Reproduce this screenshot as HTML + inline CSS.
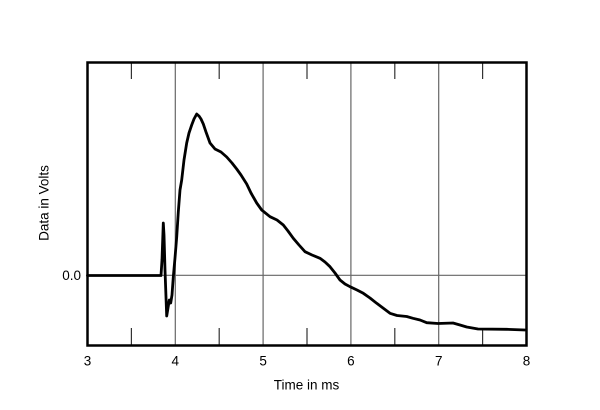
<!DOCTYPE html>
<html>
<head>
<meta charset="utf-8">
<style>
  html, body { margin: 0; padding: 0; background: #fff; }
  body { width: 600px; height: 410px; overflow: hidden; }
  svg { display: block; }
  text { font-family: "Liberation Sans", Arial, sans-serif; fill: #000; }
</style>
</head>
<body>
<svg width="600" height="410" viewBox="0 0 600 410" xmlns="http://www.w3.org/2000/svg">
  <rect x="0" y="0" width="600" height="410" fill="#fff"/>
  <g stroke="#666" stroke-width="1.2">
    <line x1="175.3" y1="62.5" x2="175.3" y2="345.5"/>
    <line x1="263.1" y1="62.5" x2="263.1" y2="345.5"/>
    <line x1="350.9" y1="62.5" x2="350.9" y2="345.5"/>
    <line x1="438.7" y1="62.5" x2="438.7" y2="345.5"/>
    <line x1="87.5" y1="275.3" x2="526.5" y2="275.3"/>
  </g>
  <g stroke="#333" stroke-width="1.2">
    <line x1="131.4" y1="62.5" x2="131.4" y2="79"/>
    <line x1="219.2" y1="62.5" x2="219.2" y2="79"/>
    <line x1="307" y1="62.5" x2="307" y2="79"/>
    <line x1="394.8" y1="62.5" x2="394.8" y2="79"/>
    <line x1="482.6" y1="62.5" x2="482.6" y2="79"/>
    <line x1="131.4" y1="345.5" x2="131.4" y2="328"/>
    <line x1="219.2" y1="345.5" x2="219.2" y2="328"/>
    <line x1="307" y1="345.5" x2="307" y2="328"/>
    <line x1="394.8" y1="345.5" x2="394.8" y2="328"/>
    <line x1="482.6" y1="345.5" x2="482.6" y2="328"/>
  </g>
  <rect x="87.5" y="62.5" width="439" height="283" fill="none" stroke="#000" stroke-width="2.5"/>
  <polyline fill="none" stroke="#000" stroke-width="2.8" stroke-linejoin="round" stroke-linecap="round"
    points="87.5,275.5 161,275.5 162,260 163.3,223 164,235 165,270 166.7,316 168,308 169.3,300 170.7,303 172,295 173.3,277 175,258 176.7,237 178.3,212 180,190 181.7,180 184,160 186.7,143 189,133 191.7,125 194,119 196.7,114 199,116 201,119 203.3,124 206,132 210,143 215,149 221,152 226.7,157 232,163 236.7,169 241,175 246.7,184 251,193 256.7,203 261.7,210 270,216.7 277,220 283.3,225 288,231 293.3,238.3 299,245 305,251.7 312,255 320,258.3 325,262 330,266.7 335,273 340,280 345,284 350,286.7 357,290 363.3,293.3 370,298 376.7,303.3 383,308 390,313.3 397,315.5 406.7,316.5 413,318.3 420,320 426.7,322.7 438,323.5 453,323 460,325 466.7,327 478,329 506.7,329.3 525,330"/>
  <g font-size="13.5" text-anchor="middle">
    <text x="87.5" y="365.5">3</text>
    <text x="175.3" y="365.5">4</text>
    <text x="263.1" y="365.5">5</text>
    <text x="350.9" y="365.5">6</text>
    <text x="438.7" y="365.5">7</text>
    <text x="526.5" y="365.5">8</text>
  </g>
  <text x="81" y="280" font-size="13.5" text-anchor="end">0.0</text>
  <text x="306.5" y="389.5" font-size="13.5" text-anchor="middle">Time in ms</text>
  <text x="0" y="0" font-size="13.5" text-anchor="middle" transform="translate(48.5,203) rotate(-90)">Data in Volts</text>
</svg>
</body>
</html>
